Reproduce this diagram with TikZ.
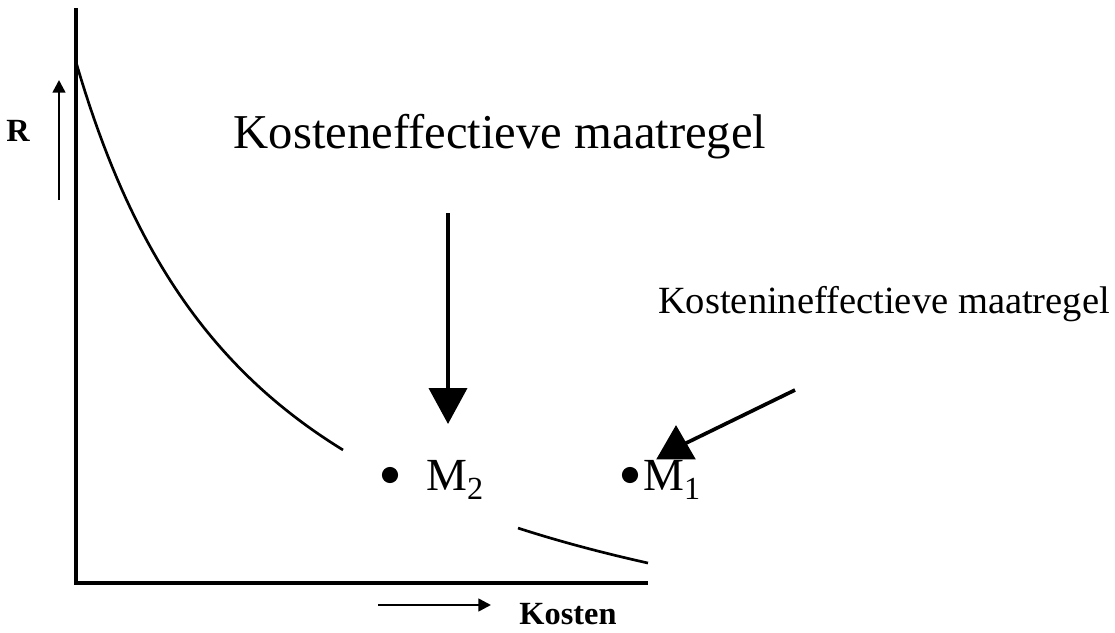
\documentclass[tikz,border=0pt]{standalone}
\usepackage{fontspec}
\setmainfont{Liberation Serif}
\usepackage{tikz}
\usetikzlibrary{positioning, shapes.geometric, arrows.meta, calc}

\begin{document}
\begin{tikzpicture}[
                x=0.025cm, y=-0.025cm,
                axis/.style={draw=black, line width=2.3pt},
                curve/.style={draw=black, line width=1.9pt},
                bigarrow/.style={line width=2.6pt, -{Triangle[width=27pt, length=25.5pt]}},
                smallarrow/.style={line width=1.8pt, -{Triangle[width=9pt, length=9pt]}},
                axlabel/.style={font=\fontsize{23}{25}\selectfont\bfseries, inner sep=0pt},
                bigtext/.style={font=\fontsize{34.6}{38}\selectfont, inner sep=0pt, anchor=base},
                midtext/.style={font=\fontsize{27.4}{30}\selectfont, inner sep=0pt, anchor=base},
                mlabel/.style={font=\fontsize{32.7}{36}\selectfont, inner sep=0pt, anchor=base west},
                mdot/.style={circle, fill=black, inner sep=0pt, minimum size=11.5pt},
                tipmark/.style={regular polygon, regular polygon sides=3, fill=black, inner sep=0pt, minimum size=32.5pt}
            ]
            \useasboundingbox (0,0) rectangle (1115,632);

            % Assen
            \coordinate (ytop) at (76,8);
            \coordinate (origin) at (76,583);
            \coordinate (xend) at (648,583);
            \draw[axis] (ytop) -- (origin) -- (xend);

            % Curve (onderbroken bij M2)
            \draw[curve] plot[domain=76:343, samples=60] (\x, {734.7-1318.42/(\x/100+1.2)});
            \draw[curve] plot[domain=518:648, samples=30] (\x, {734.7-1318.42/(\x/100+1.2)});

            % Labels bij de assen
            \node[axlabel] (rlabel) at (18,131) {R};
            \node[axlabel, anchor=base] (kostlabel) at (568,624) {Kosten};
            \coordinate (rtail) at (59,200);
            \coordinate (rhead) at (59,80);
            \draw[smallarrow] (rtail) -- (rhead);
            \coordinate (ktail) at (378,605);
            \coordinate (khead) at (491,605);
            \draw[smallarrow] (ktail) -- (khead);

            % Maatregelen
            \node[mdot] (dottwo) at (390,475) {};
            \node[mlabel] (mtwo) at (426,490) {M\textsubscript{2}};
            \node[mdot] (dotone) at (630,475) {};
            \node[mlabel] (mone) at (643,490) {M\textsubscript{1}};

            % Teksten met pijlen
            \node[bigtext] (efftext) at (500,148) {Kosteneffectieve maatregel};
            \coordinate (efftail) at (448,213);
            \coordinate (effhead) at (448,424);
            \draw[bigarrow] (efftail) -- (effhead);

            \node[midtext] (inefftext) at (884,313) {Kostenineffectieve maatregel};
            \coordinate (inefftail) at (795,390);
            \node[tipmark] (ineffhead) at (676,448) {};
            \draw[line width=2.6pt] (inefftail) -- (ineffhead.center);

        \end{tikzpicture}
\end{document}
